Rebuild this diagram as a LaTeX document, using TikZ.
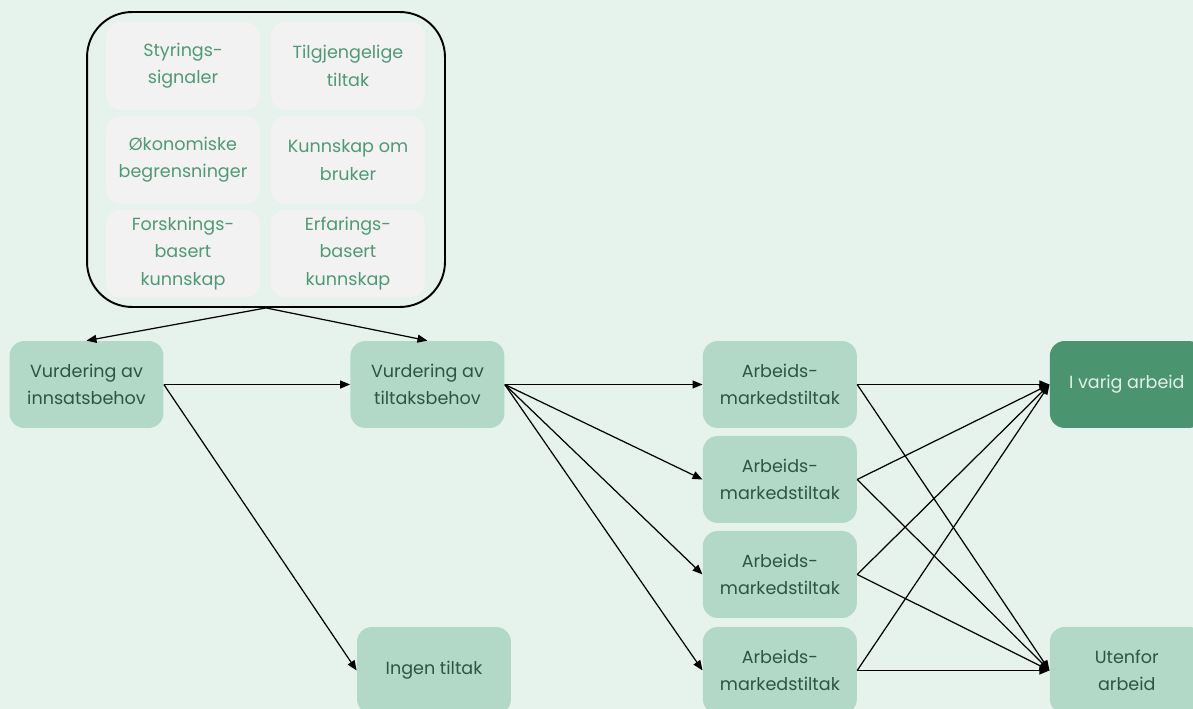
\documentclass[tikz,border=0pt]{standalone}
\usepackage{fontspec}
\setmainfont{Poppins}
\usetikzlibrary{arrows.meta, positioning}

\definecolor{bgcol}{HTML}{E6F2EC}
\definecolor{boxfill}{HTML}{B2D9C7}
\definecolor{boxtext}{HTML}{2E5443}
\definecolor{darkgreen}{HTML}{4A9470}
\definecolor{factfill}{HTML}{F2F2F2}
\definecolor{facttext}{HTML}{4E9A74}
\definecolor{outtext}{HTML}{E2F1E9}

\begin{document}
\begin{tikzpicture}[
  x=0.02cm, y=-0.02cm,
  node distance=1.9cm,
  stepbox/.style={rectangle, rounded corners=0.3cm, fill=boxfill, text=boxtext, minimum width=3.08cm, minimum height=1.74cm, align=center, inner sep=2pt, font=\fontsize{10}{15.5}\selectfont},
  outbox/.style={stepbox, fill=darkgreen, text=outtext},
  factbox/.style={rectangle, rounded corners=0.3cm, fill=factfill, text=facttext, minimum width=3.08cm, minimum height=1.76cm, align=center, inner sep=2pt, font=\fontsize{10}{15.5}\selectfont},
  frame/.style={rectangle, draw=black, line width=1.1pt, rounded corners=0.9cm, minimum width=7.16cm, minimum height=5.9cm},
  flow/.style={-{Triangle[length=0.2cm, width=0.16cm]}, line width=0.7pt}
]

% Background
\fill[bgcol] (0,0) rectangle (1193,709);
\useasboundingbox (0,0) rectangle (1193,709);

% Factors
\node[frame] (factors) at (266,159.5) {};
\node[factbox] (signals) at (183,66) {Styrings-\\signaler};
\node[factbox, right of=signals, node distance=3.3cm] (measures) {Tilgjengelige\\tiltak};
\node[factbox, below of=signals, node distance=1.88cm] (economy) {Økonomiske\\begrensninger};
\node[factbox, right of=economy, node distance=3.3cm] (user) {Kunnskap om\\bruker};
\node[factbox, below of=economy, node distance=1.87cm] (research) {Forsknings-\\basert\\kunnskap};
\node[factbox, right of=research, node distance=3.3cm] (experience) {Erfarings-\\basert\\kunnskap};

% Assessments
\node[stepbox] (needs) at (86.5,384.5) {Vurdering av\\innsatsbehov};
\node[stepbox, right of=needs, node distance=6.82cm] (measneeds) {Vurdering av\\tiltaksbehov};
\node[stepbox] (none) at (434,670.5) {Ingen tiltak};

\draw[flow] (factors.south) -- (needs.north);
\draw[flow] (factors.south) -- (measneeds.north);
\draw[flow] (needs.east) -- (measneeds.west);
\draw[flow] (needs.east) -- (none.west);

% Labour market measures
\node[stepbox, right of=measneeds, node distance=7.05cm] (amt1) {Arbeids-\\markedstiltak};
\node[stepbox, below of=amt1] (amt2) {Arbeids-\\markedstiltak};
\node[stepbox, below of=amt2] (amt3) {Arbeids-\\markedstiltak};
\node[stepbox, below of=amt3, node distance=1.92cm] (amt4) {Arbeids-\\markedstiltak};

\draw[flow] (measneeds.east) -- (amt1.west);
\draw[flow] (measneeds.east) -- (amt2.west);
\draw[flow] (measneeds.east) -- (amt3.west);
\draw[flow] (measneeds.east) -- (amt4.west);

% Outcomes
\node[outbox, right of=amt1, node distance=6.94cm] (work) {I varig arbeid};
\node[stepbox, right of=amt4, node distance=6.94cm] (outside) {Utenfor\\arbeid};

\draw[flow] (amt1.east) -- (work.west);
\draw[flow] (amt2.east) -- (work.west);
\draw[flow] (amt3.east) -- (work.west);
\draw[flow] (amt4.east) -- (work.west);
\draw[flow] (amt1.east) -- (outside.west);
\draw[flow] (amt2.east) -- (outside.west);
\draw[flow] (amt3.east) -- (outside.west);
\draw[flow] (amt4.east) -- (outside.west);

\end{tikzpicture}
\end{document}
